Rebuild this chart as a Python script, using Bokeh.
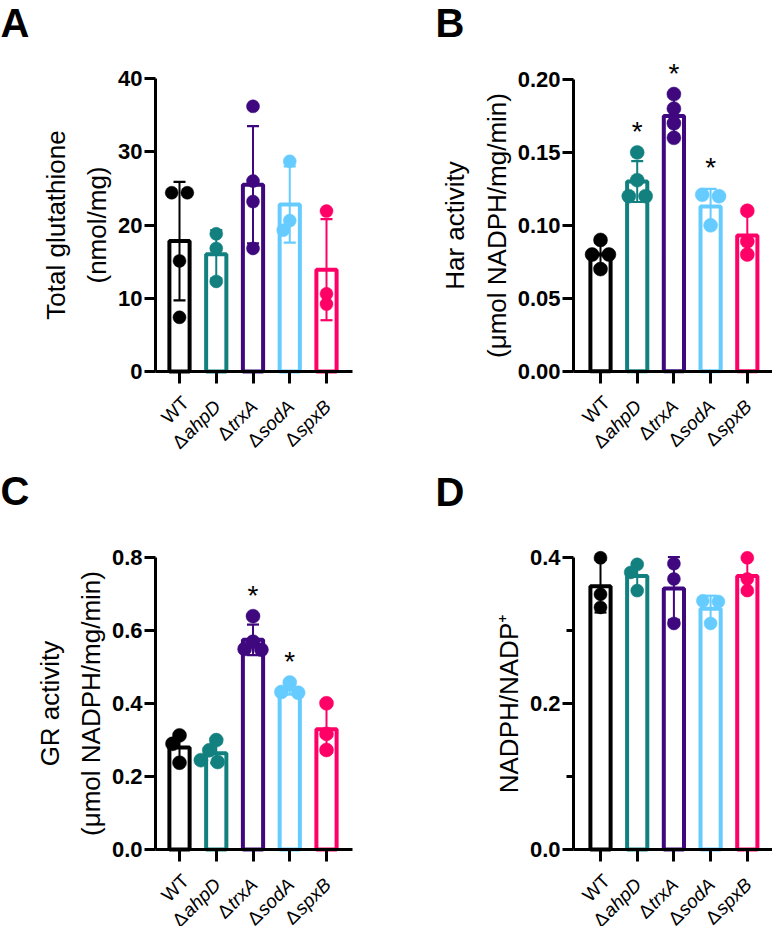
import glob
import math

from bokeh.plotting import figure
from bokeh.models import Range1d, FixedTicker
from bokeh.layouts import column, row
from bokeh.embed import file_html
from bokeh.resources import INLINE
from bokeh.core.properties import value

# ---------------- data ----------------
strains = ["WT", "ahpD", "trxA", "sodA", "spxB"]
is_deletion = [False, True, True, True, True]
colors = ["#000000", "#138080", "#3F087F", "#66CCFF", "#FF0066"]

# A: total glutathione (nmol/mg)
a_points = [[24.4, 24.4, 15.1, 7.4], [18.8, 16.8, 12.3], [36.2, 26.0, 23.2, 16.8],
            [28.7, 20.6, 19.3], [21.9, 10.6, 9.2]]
a_mean = [17.8, 16.0, 25.5, 22.8, 13.9]
a_sd = [8.1, 3.3, 8.0, 5.2, 6.9]
a_sig = [False, False, False, False, False]
a_ticks = [0, 10, 20, 30, 40]
a_ticklabels = ["0", "10", "20", "30", "40"]

# B: Har activity
b_points = [[0.090, 0.080, 0.080, 0.070], [0.150, 0.131, 0.120, 0.120],
            [0.190, 0.180, 0.170, 0.160], [0.121, 0.120, 0.100], [0.110, 0.089, 0.080]]
b_mean = [0.080, 0.130, 0.175, 0.113, 0.093]
b_sd = [0.008, 0.014, 0.013, 0.012, 0.015]
b_sig = [False, True, True, True, False]
b_ticks = [0.0, 0.05, 0.10, 0.15, 0.20]
b_ticklabels = ["0.00", "0.05", "0.10", "0.15", "0.20"]

# C: GR activity
c_points = [[0.313, 0.290, 0.238], [0.300, 0.272, 0.245, 0.240],
            [0.640, 0.570, 0.550, 0.548], [0.458, 0.432, 0.430], [0.401, 0.317, 0.273]]
c_mean = [0.280, 0.264, 0.575, 0.440, 0.330]
c_sd = [0.039, 0.027, 0.042, 0.015, 0.065]
c_sig = [False, False, True, True, False]
c_ticks = [0.0, 0.2, 0.4, 0.6, 0.8]
c_ticklabels = ["0.0", "0.2", "0.4", "0.6", "0.8"]

# D: NADPH/NADP+
d_points = [[0.400, 0.350, 0.332], [0.391, 0.380, 0.355], [0.392, 0.371, 0.310],
            [0.341, 0.340, 0.310], [0.400, 0.371, 0.355]]
d_mean = [0.361, 0.375, 0.358, 0.330, 0.375]
d_sd = [0.036, 0.018, 0.043, 0.018, 0.023]
d_sig = [False, False, False, False, False]
d_ticks = [0.0, 0.2, 0.4]
d_minor = [0.1, 0.3]
d_ticklabels = ["0.0", "0.2", "0.4"]

FONT = "Liberation Sans"
CAT_FS = 19


def text_width(txt, size, italic):
    name = "LiberationSans-Italic.ttf" if italic else "LiberationSans-Regular.ttf"
    try:
        from PIL import ImageFont
        paths = glob.glob("/usr/share/fonts/**/" + name, recursive=True)
        if paths:
            return ImageFont.truetype(paths[0], size).getlength(txt)
    except Exception:
        pass
    return 0.55 * size * len(txt)


def swarm(vals, ppu, d):
    """horizontal pixel offsets so that markers do not overlap too much"""
    order = sorted(range(len(vals)), key=lambda i: -vals[i])
    groups = []
    for i in order:
        if groups and abs(vals[groups[-1][-1]] - vals[i]) * ppu < 0.35 * d:
            groups[-1].append(i)
        else:
            groups.append([i])
    offs = [0.0] * len(vals)
    placed = []
    cands = [0.0]
    for k in range(1, 10):
        cands += [-k * d / 2, k * d / 2]
    for g in groups:
        n = len(g)
        inner = [(j - (n - 1) / 2) * 1.2 * d for j in range(n)]
        for c in cands:
            ok = True
            for j, i in enumerate(g):
                x = c + inner[j]
                y = vals[i] * ppu
                for px, py in placed:
                    if math.hypot(x - px, y - py) < 0.75 * d:
                        ok = False
                        break
                if not ok:
                    break
            if ok:
                break
        for j, i in enumerate(g):
            offs[i] = c + inner[j]
            placed.append((offs[i], vals[i] * ppu))
    return offs


def panel(letter, letter_px, label, points, mean, sd, sig, ticks, ticklabels, ytop,
          fig_w, fig_h, cat0, ppx, y0, ppu, yaxis_px, xend_px, msize, minor=None):
    # the frame covers the whole figure; axes sit at fixed data locations
    xlo, xhi = -cat0 / ppx, (fig_w - cat0) / ppx
    ylo, yhi = (y0 - fig_h) / ppu, y0 / ppu
    p = figure(width=fig_w, height=fig_h, output_backend="svg", toolbar_location=None,
               x_range=Range1d(xlo, xhi), y_range=Range1d(ylo, yhi), min_border=0)
    p.outline_line_color = None
    p.xgrid.visible = False
    p.ygrid.visible = False
    p.background_fill_color = "white"
    p.border_fill_color = "white"

    def to_data(px, py):
        return xlo + px / ppx, (y0 - py) / ppu

    xs = list(range(len(strains)))
    xaxis_x0 = (yaxis_px - cat0) / ppx
    xaxis_x1 = (xend_px - cat0) / ppx

    # bars
    p.vbar(x=xs, top=mean, width=0.55, bottom=0, fill_color="white",
           line_color=colors, line_width=4)
    # error bars (mean +/- SD)
    lo = [m - s for m, s in zip(mean, sd)]
    hi = [m + s for m, s in zip(mean, sd)]
    p.segment(x0=xs, y0=lo, x1=xs, y1=hi, line_color=colors, line_width=2)
    p.scatter(x=xs + xs, y=lo + hi, marker="dash", size=12, line_color=colors + colors,
              line_width=2.2)
    # individual points
    px, py, pc = [], [], []
    for i, vals in enumerate(points):
        offs = swarm(vals, ppu, msize)
        for v, o in zip(vals, offs):
            px.append(i + o / ppx)
            py.append(v)
            pc.append(colors[i])
    p.scatter(x=px, y=py, size=msize, fill_color=pc, line_color=pc, line_width=0.5)

    # significance stars
    sx = [i for i in xs if sig[i]]
    sy = [max(max(points[i]), hi[i]) for i in xs if sig[i]]
    if sx:
        p.text(x=sx, y=sy, text=["*"] * len(sx), y_offset=-21, text_align="center",
               text_baseline="middle", text_font_size=value("28px"),
               text_font=value(FONT), text_color="black")

    # axes
    yax = p.yaxis[0]
    yax.fixed_location = xaxis_x0
    yax.ticker = FixedTicker(ticks=ticks, minor_ticks=minor or [])
    yax.major_label_overrides = {t: l for t, l in zip(ticks, ticklabels)}
    yax.bounds = (0, ytop)
    yax.axis_line_width = 3
    yax.major_tick_line_width = 3
    yax.major_tick_out = 11
    yax.major_tick_in = 0
    yax.minor_tick_line_width = 3
    yax.minor_tick_out = 7 if minor else 0
    yax.minor_tick_in = 0
    yax.major_label_standoff = 2
    yax.major_label_text_font = FONT
    yax.major_label_text_font_style = "bold"
    yax.major_label_text_font_size = "22px"
    yax.major_label_text_color = "black"
    yax.axis_label = label
    yax.axis_label_text_font = FONT
    yax.axis_label_text_font_style = "normal"
    yax.axis_label_text_font_size = "26px"
    yax.axis_label_text_line_height = 1.38
    yax.axis_label_text_color = "black"
    yax.axis_label_standoff = 3

    xax = p.xaxis[0]
    xax.fixed_location = 0
    xax.bounds = (xaxis_x0, xaxis_x1)
    xax.ticker = FixedTicker(ticks=xs, minor_ticks=[])
    xax.major_label_overrides = {i: "" for i in xs}
    xax.axis_line_width = 3
    xax.major_tick_line_width = 3
    xax.major_tick_out = 12
    xax.major_tick_in = 0
    xax.minor_tick_out = 0

    # category labels (upright "WT" / "Δ", italic gene names), rotated 45°
    ang = math.pi / 4
    bx, by = 1, 32
    up_x, up_t, up_xo, up_yo = [], [], [], []
    it_x, it_t = [], []
    for i, s in enumerate(strains):
        if is_deletion[i]:
            w = text_width(s, CAT_FS, True) + 1
            it_x.append(i); it_t.append(s)
            up_x.append(i); up_t.append("\u0394")
            up_xo.append(bx - w * math.cos(ang)); up_yo.append(by + w * math.sin(ang))
        else:
            up_x.append(i); up_t.append(s)
            up_xo.append(bx + 5); up_yo.append(by - 4)
    p.text(x=up_x, y=[0] * len(up_x), text=up_t, x_offset=up_xo, y_offset=up_yo, angle=ang,
           text_align="right", text_baseline="middle", text_font=value(FONT),
           text_font_size=value(f"{CAT_FS}px"), text_color="black")
    p.text(x=it_x, y=[0] * len(it_x), text=it_t, x_offset=bx, y_offset=by, angle=ang,
           text_align="right", text_baseline="middle", text_font=value(FONT),
           text_font_style="italic", text_font_size=value(f"{CAT_FS}px"), text_color="black")

    # panel letter
    lx, ly = to_data(*letter_px)
    p.text(x=[lx], y=[ly], text=[letter], text_align="left", text_baseline="middle",
           text_font=value(FONT), text_font_style="bold", text_font_size=value("40px"),
           text_color="black")
    return p


pA = panel("A", (0, 22), "Total glutathione\n(nmol/mg)", a_points, a_mean, a_sd, a_sig,
           a_ticks, a_ticklabels, 40,
           380, 460, 179, 36.75, 371, 7.325, 155, 352, 13)
pB = panel("B", (55, 22), "Har activity\n(\u03bcmol NADPH/mg/min)", b_points, b_mean, b_sd,
           b_sig, b_ticks, b_ticklabels, 0.2,
           392, 460, 220, 36.7, 370.7, 1458.5, 193, 392, 14)
pC = panel("C", (0, 30), "GR activity\n(\u03bcmol NADPH/mg/min)", c_points, c_mean, c_sd,
           c_sig, c_ticks, c_ticklabels, 0.8,
           380, 466, 179, 36.75, 389, 364.6, 155, 352, 14)
pD = panel("D", (55, 31), "NADPH/NADP\u207a", d_points, d_mean, d_sd, d_sig, d_ticks,
           d_ticklabels, 0.4,
           392, 466, 220, 36.7, 389, 729.25, 193, 392, 13, minor=d_minor)

layout = column(row(pA, pB, spacing=0), row(pC, pD, spacing=0), spacing=0)
open("out.html", "w").write(file_html(layout, INLINE))
